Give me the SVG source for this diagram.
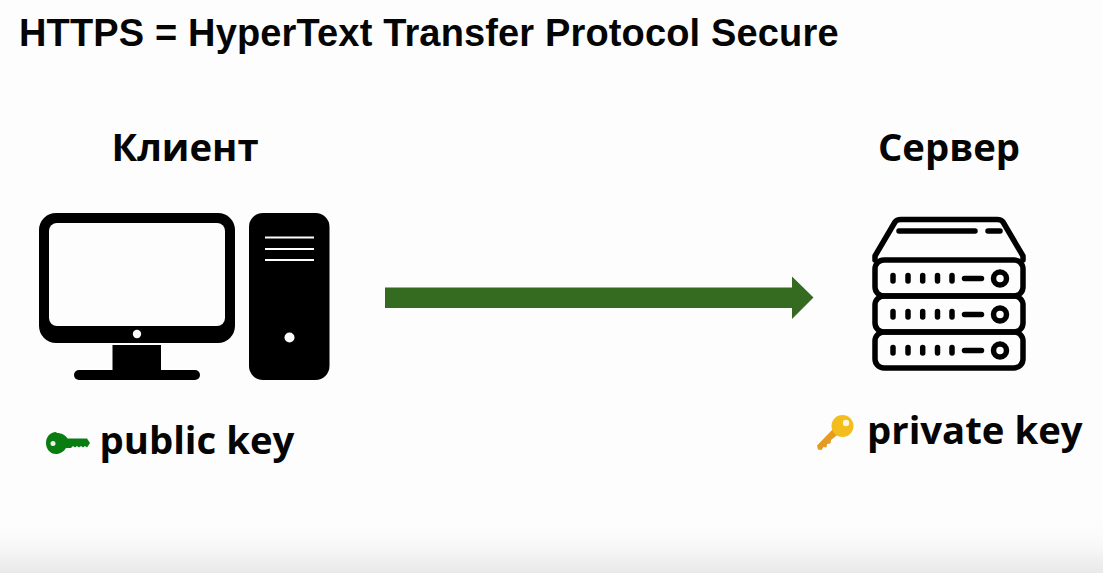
<svg xmlns="http://www.w3.org/2000/svg" width="1103" height="573" viewBox="0 0 1103 573">
<style>
.t{font-family:"Open Sans","Noto Sans",sans-serif;font-weight:700;font-size:38.3px;fill:#050505}
.h{font-family:"Liberation Sans",Arial,sans-serif;font-weight:700;font-size:38px;letter-spacing:.15px;fill:#050505}
.s{fill:none;stroke:#000;stroke-width:5.500;stroke-linejoin:round;stroke-linecap:round}
.k{fill:#000}.w{fill:#fdfdfd}
</style>
<defs>
<linearGradient id="bg" x1="0" y1="0" x2="0" y2="1"><stop offset="0" stop-color="#fdfdfd"/><stop offset="0.3" stop-color="#fbfbfb"/><stop offset="0.53" stop-color="#f7f7f7"/><stop offset="0.77" stop-color="#efefef"/><stop offset="1" stop-color="#e9e9e9"/></linearGradient>
<g id="row"><rect x="875" y="0" width="148" height="36" rx="9" class="s"/>
<path class="s" d="M893 15.500v5.500M908 15.500v5.500M922.700 15.500v5.500M937.500 15.500v5.500M952 15.500v5.500M964.500 18.500h17"/><circle cx="1000" cy="18.500" r="6.500" class="s"/></g>
</defs>
<rect width="1103" height="573" fill="#fdfdfd"/>
<rect y="520" width="1103" height="53" fill="url(#bg)"/>
<text id="title" class="h" x="19" y="46">HTTPS = HyperText Transfer Protocol Secure</text>
<g id="client">
<text class="t" x="185" y="161" text-anchor="middle">Клиент</text>
<rect x="39" y="213" width="196" height="130" rx="17" class="k"/>
<rect x="49" y="223" width="176" height="103" rx="8" class="w"/>
<circle cx="137" cy="334" r="4.200" class="w"/>
<rect x="112.500" y="345" width="48.500" height="26" class="k"/>
<rect x="74" y="370" width="126" height="10" rx="5" class="k"/>
<rect x="249" y="213" width="80.500" height="167" rx="14" class="k"/>
<path d="M265 237.500h49M265 249h49M265 260h49" stroke="#fdfdfd" stroke-width="2" fill="none"/>
<circle cx="289.500" cy="337.500" r="5" class="w"/>
</g>
<g id="public-key">
<path fill="#0a7d12" d="M57 433c4.500 0 8.500 2.200 10.500 5.500H87l3 4.500-3 4.500-2-1.500-2 1.500-2-1.500-2 1.500-2-1.500-2 1.500-2-1.500-2 2h-5c-2 3.500-6 6-10 6-6 0-10-5-10-11s4-11 10-11z"/>
<circle cx="53" cy="443.500" r="2.500" fill="#e9f3e9"/>
<text class="t" x="99.500" y="454">public key</text>
</g>
<g id="server">
<text class="t" x="949" y="161" text-anchor="middle">Сервер</text>
<path class="s" d="M875 260v-4l20-34q1.500-2.500 6-2.500h96q4.500 0 6 2.500l20 34v4"/>
<path class="s" d="M899 231h76M988 231h12"/>
<use href="#row" y="260"/><use href="#row" y="296"/><use href="#row" y="332"/>
</g>
<g id="private-key">
<path fill="#e59a22" d="M834 428l-17 17.500 1 4 3.500.500 2-3 3 .500.500-3.500 3.500-.500 .500-3.500 10-8z"/>
<circle cx="842.500" cy="426" r="11" fill="#f2bd1d"/>
<circle cx="846" cy="423" r="3.200" fill="#fdf6df"/>
<text class="t" x="867" y="444">private key</text>
</g>
<g id="connectors">
<path fill="#356a21" d="M385 287.500h407v-11l21.500 21-21.500 21.500v-11h-407z"/>
</g>
</svg>
